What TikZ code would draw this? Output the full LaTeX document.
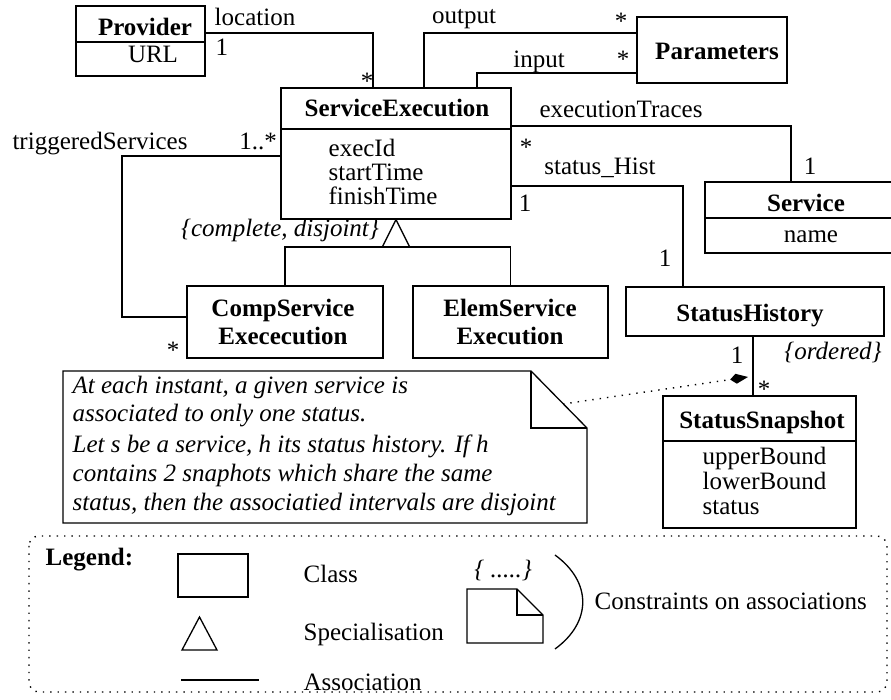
\documentclass[tikz,border=0pt]{standalone}
\usepackage{fontspec}
\setmainfont{Liberation Serif}
\usetikzlibrary{arrows.meta, fit}
\AtBeginDocument{\fontsize{12.5}{15}\selectfont}

\begin{document}
\begin{tikzpicture}[x=0.5pt, y=-0.5pt, line width=0.65pt,
  every node/.append style={inner sep=0pt},
  classbox/.style={draw, rectangle, line width=0.7pt},
  title/.style={anchor=base, font=\bfseries},
  attr/.style={anchor=base west},
  lbl/.style={anchor=base},
  cons/.style={anchor=base, font=\itshape},
  dots/.style={line width=0.7pt, dash pattern=on 0.7pt off 3pt}]
  \useasboundingbox (0,0) rectangle (891,700);
  \clip (0,0) rectangle (891,700);

  % classes
  \node[classbox, fit={(76,6) (205,76)}] (provider) {};
  \node[classbox, fit={(281,88) (511,219)}] (sexec) {};
  \node[classbox, fit={(637,17) (787,83)}] (params) {};
  \node[classbox, fit={(705,182) (907,253)}] (service) {};
  \node[classbox, fit={(187,286) (383,358)}] (compserv) {};
  \node[classbox, fit={(413,286) (608,358)}] (elemserv) {};
  \node[classbox, fit={(626,287) (884,336)}] (stathist) {};
  \node[classbox, fit={(663,396) (856,528)}] (statsnap) {};
  \foreach \cls/\yy in {provider/42, sexec/129, service/218, statsnap/441}
    \draw (\cls.west |- 0,\yy) -- (\cls.east |- 0,\yy);

  \node[title] (provtitle) at (145,36) {Provider};
  \node[lbl] (provurl) at (153,63) {URL};
  \node[title] (setitle) at (397,117) {ServiceExecution};
  \foreach \att/\yy [count=\i] in {execId/157, startTime/181, finishTime/205}
    \node[attr] (seatt\i) at (328,\yy) {\att};
  \node[title] (partitle) at (717,60) {Parameters};
  \node[title] (svtitle) at (806,212) {Service};
  \node[lbl] (svname) at (811,243) {name};
  \node[title] (cstitle) at (283,317) {CompService};
  \node[title] (cstitleb) at (283,345) {Exececution};
  \node[title] (estitle) at (510,317) {ElemService};
  \node[title] (estitleb) at (510,345) {Execution};
  \node[title] (shtitle) at (750,322) {StatusHistory};
  \node[title] (sstitle) at (762,429) {StatusSnapshot};
  \foreach \att/\yy [count=\i] in {upperBound/465, lowerBound/490, status/515}
    \node[attr] (ssatt\i) at (702,\yy) {\att};

  % associations
  \coordinate (locbend) at (373,33);
  \coordinate (outbend) at (424,33);
  \coordinate (inbend) at (477,73);
  \coordinate (trbend) at (791,126);
  \coordinate (hbend) at (683,186);
  \coordinate (tgtop) at (122,156);
  \coordinate (tgbot) at (122,317);
  \coordinate (ordx) at (753,0);
  \draw (provider.east |- locbend) -| (locbend |- sexec.north);
  \draw (outbend |- sexec.north) |- (params.west |- outbend);
  \draw (inbend |- sexec.north) |- (params.west |- inbend);
  \draw (sexec.east |- trbend) -| (trbend |- service.north);
  \draw (sexec.east |- hbend) -| (hbend |- stathist.north);
  \draw (sexec.west |- tgtop) -- (tgtop) -- (tgbot) -- (compserv.west |- tgbot);
  \draw (stathist.south -| ordx) -- (statsnap.north -| ordx);

  % specialisation
  \coordinate (genbar) at (0,247);
  \draw (compserv.north) |- (elemserv.north |- genbar) -- (elemserv.north);
  \draw[fill=white] (sexec.south) -- ++(-13.5,27) -- ++(27,0) -- cycle;

  % role names and multiplicities
  \node[lbl] (lloc) at (255,26) {location};
  \node[lbl] (mprov) at (222,56) {1};
  \node[lbl] (mlocse) at (367,90) {*};
  \node[lbl] (lout) at (464,24) {output};
  \node[lbl] (moutpar) at (621,30) {*};
  \node[lbl] (lin) at (539,68) {input};
  \node[lbl] (minpar) at (623,68) {*};
  \node[lbl] (ltr) at (621,118) {executionTraces};
  \node[lbl] (mtrse) at (526,156) {*};
  \node[lbl] (mtrsv) at (810,175) {1};
  \node[lbl] (lhist) at (600,175) {status\_Hist};
  \node[lbl] (mhistse) at (525,212) {1};
  \node[lbl] (mhistsh) at (665,267) {1};
  \node[lbl] (ltrig) at (100,150) {triggeredServices};
  \node[lbl] (mtrigse) at (258,150) {1..*};
  \node[lbl] (mtrigcs) at (173,359) {*};
  \node[cons] (lgen) at (280,237) {\{complete, disjoint\}};
  \node[lbl] (mshone) at (737,364) {1};
  \node[lbl] (mssmany) at (764,398) {*};
  \node[cons] (lord) at (833,360) {\{ordered\}};

  % note
  \draw (63,371) -- (531,371) -- (587,428) -- (587,523) -- (63,523) -- cycle;
  \draw (531,371) -- (531,428) -- (587,428);
  \foreach \ln/\yy [count=\i] in {{At each instant, a given service is}/394,
      {associated to only one status.}/422,
      {Let s be a service, h its status history. If h}/453,
      {contains 2 snaphots which share the same}/482,
      {status, then the associatied intervals are disjoint}/511}
    \node[attr, font=\itshape] (noteln\i) at (72,\yy) {\ln};
  \coordinate (notept) at (563,404);
  \coordinate (ordtip) at (748,377);
  \draw[dots, -{Kite[length=9pt, width=5pt, inset=3pt]}] (notept) -- (ordtip);

  % legend
  \draw[dots, rounded corners=5pt] (29,536) rectangle (887,692);
  \node[title, anchor=base west] (legtitle) at (45,566) {Legend:};
  \node[classbox, fit={(178,554) (248,597)}] (legclass) {};
  \node[attr] (legclasstxt) at (303,583) {Class};
  \draw (199.5,617) -- (182,650) -- (217,650) -- cycle;
  \node[attr] (legspec) at (303,641) {Specialisation};
  \coordinate (legasa) at (181,680);
  \coordinate (legasb) at (259,680);
  \draw (legasa) -- (legasb);
  \node[attr] (legassoc) at (303,691) {Association};
  \node[cons] (legcons) at (503,578) {\{ .....\}};
  \draw (467,589) -- (517,589) -- (543,615) -- (543,643) -- (467,643) -- cycle;
  \draw (517,589) -- (517,615) -- (543,615);
  \draw (555,555) .. controls (592,582) and (592,622) .. (555,649);
  \node[attr] (legconstxt) at (594,610) {Constraints on associations};
\end{tikzpicture}
\end{document}
